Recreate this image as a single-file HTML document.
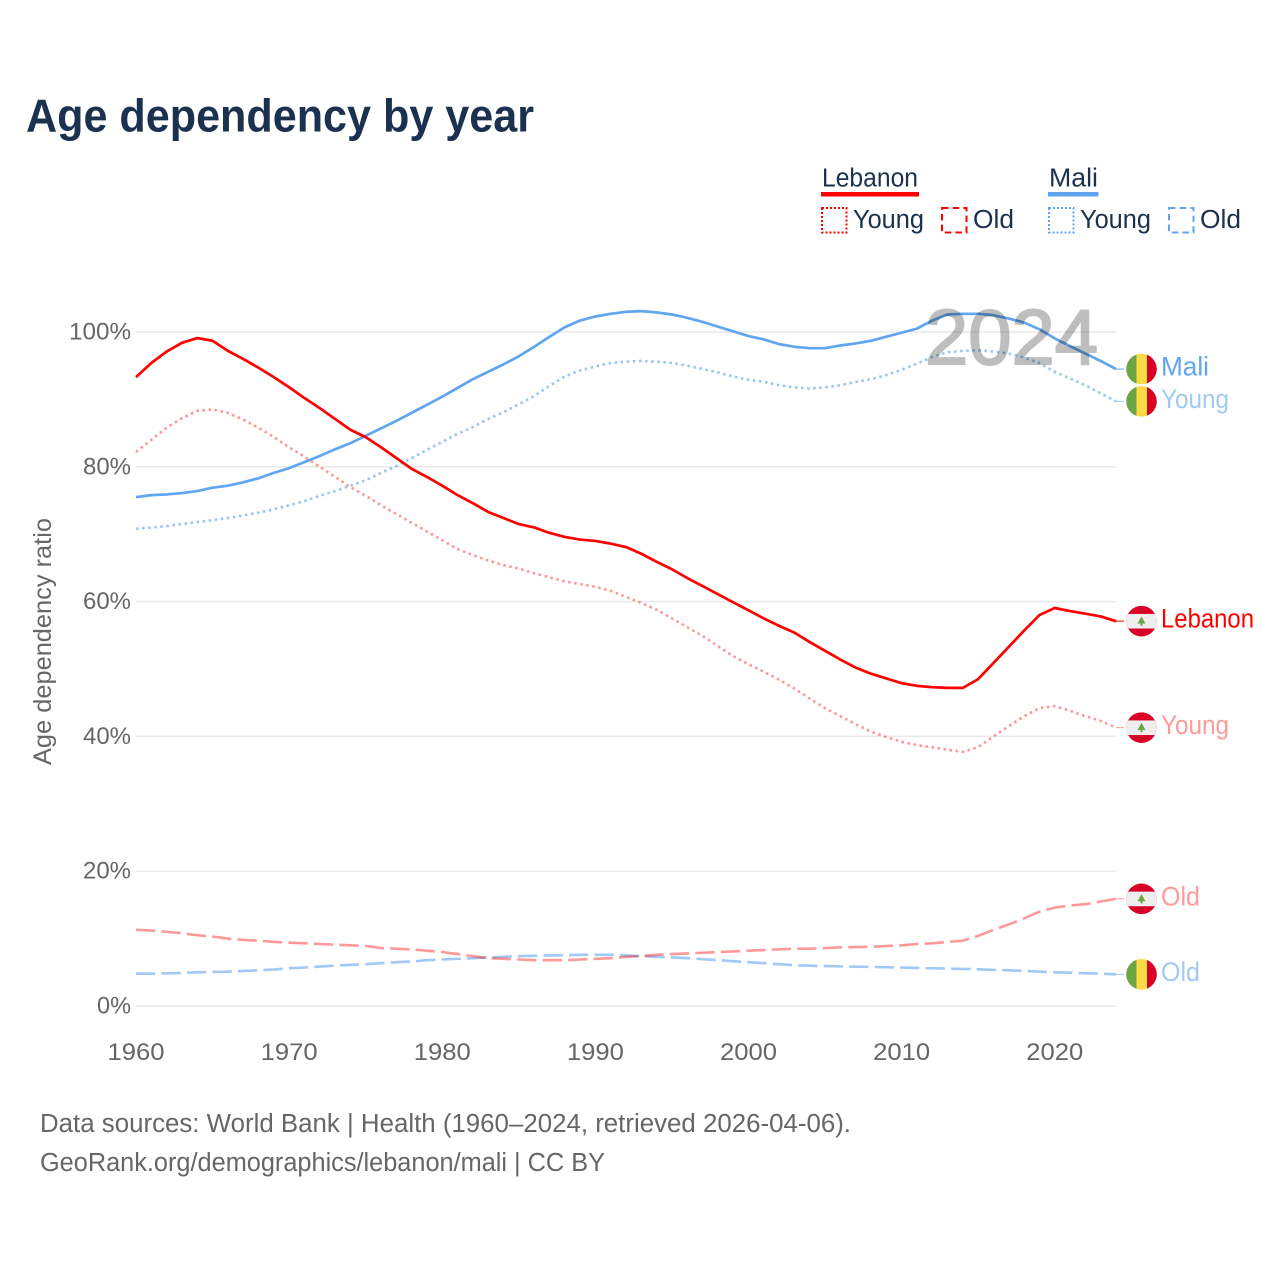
<!DOCTYPE html>
<html lang="en">
<head>
<meta charset="utf-8">
<title>Age dependency by year</title>
<style>
html,body{margin:0;padding:0;background:#fff;width:1280px;height:1280px;overflow:hidden}
svg{display:block}
text{font-family:"Liberation Sans",sans-serif}
</style>
</head>
<body>
<svg id="chart" xmlns="http://www.w3.org/2000/svg" width="1280" height="1280" viewBox="0 0 1280 1280">
  <defs>
    <clipPath id="flag-clip"><circle cx="0" cy="0" r="15.3"/></clipPath>
    <g id="flag-mali">
      <g clip-path="url(#flag-clip)">
        <rect x="-16" y="-16" width="11" height="32" fill="#6da544"/>
        <rect x="-5" y="-16" width="10.5" height="32" fill="#ffda44"/>
        <rect x="5.5" y="-16" width="11" height="32" fill="#d80027"/>
      </g>
    </g>
    <g id="flag-lebanon">
      <g clip-path="url(#flag-clip)">
        <rect x="-16" y="-16" width="32" height="32" fill="#d80027"/>
        <rect x="-16" y="-7.2" width="32" height="14.6" fill="#eeeeee"/>
        <polygon points="0,-4.6 4,2.4 1,2.4 1,4.6 -1,4.6 -1,2.4 -4,2.4" fill="#6da544"/>
      </g>
    </g>
  </defs>

  <text x="26" y="131.5" font-size="46" font-weight="700" fill="#1a3150" textLength="508" lengthAdjust="spacingAndGlyphs">Age dependency by year</text>

  <g fill="#1a3150" font-size="25.5">
    <text x="822" y="186.5" textLength="96" lengthAdjust="spacingAndGlyphs">Lebanon</text>
    <rect x="821" y="192" width="98" height="4.5" fill="#ff0000"/>
    <rect x="822" y="208" width="24.5" height="24.5" fill="none" stroke="#ff0000" stroke-width="2" stroke-dasharray="2 2"/>
    <text x="853" y="228" textLength="71" lengthAdjust="spacingAndGlyphs">Young</text>
    <rect x="942" y="208" width="24.5" height="24.5" fill="none" stroke="#ff0000" stroke-width="2" stroke-dasharray="6.5 4.2"/>
    <text x="973" y="228" textLength="41" lengthAdjust="spacingAndGlyphs">Old</text>

    <text x="1049" y="186.5" textLength="49" lengthAdjust="spacingAndGlyphs">Mali</text>
    <rect x="1048" y="192" width="50.5" height="4.5" fill="#60a5ef"/>
    <rect x="1049" y="208" width="24.5" height="24.5" fill="none" stroke="#60a5ef" stroke-width="2" stroke-dasharray="2 2"/>
    <text x="1080" y="228" textLength="71" lengthAdjust="spacingAndGlyphs">Young</text>
    <rect x="1169" y="208" width="24.5" height="24.5" fill="none" stroke="#60a5ef" stroke-width="2" stroke-dasharray="6.5 4.2"/>
    <text x="1200" y="228" textLength="41" lengthAdjust="spacingAndGlyphs">Old</text>
  </g>

  <g id="grid"></g>
  <g id="y-ticks"></g>
  <g id="x-ticks"></g>
  <text transform="translate(51,765) rotate(-90)" font-size="25" fill="#666666" textLength="247" lengthAdjust="spacingAndGlyphs">Age dependency ratio</text>

  <g id="series"></g>
  <g id="end-labels"></g>

  <text x="925" y="364" font-size="78" fill="#000000" stroke="#000000" stroke-width="2" opacity="0.25" textLength="173" lengthAdjust="spacingAndGlyphs">2024</text>

  <g font-size="25.5" fill="#666666">
    <text x="40" y="1132" textLength="811" lengthAdjust="spacingAndGlyphs">Data sources: World Bank | Health (1960–2024, retrieved 2026-04-06).</text>
    <text x="40" y="1171" textLength="565" lengthAdjust="spacingAndGlyphs">GeoRank.org/demographics/lebanon/mali | CC BY</text>
  </g>
</svg>
<script>
const startYear = 1960;
const endYear = 2024;
const yTickValues = [0, 20, 40, 60, 80, 100];
const yTickLabels = ["0%", "20%", "40%", "60%", "80%", "100%"];
const xTickValues = [1960, 1970, 1980, 1990, 2000, 2010, 2020];
const xTickLabels = ["1960", "1970", "1980", "1990", "2000", "2010", "2020"];

const lebanonTotal = [93.3,95.4,97.1,98.4,99.1,98.7,97.2,96.0,94.7,93.3,91.8,90.2,88.7,87.1,85.5,84.4,82.9,81.3,79.7,78.5,77.2,75.8,74.6,73.3,72.4,71.5,71.0,70.2,69.6,69.2,69.0,68.6,68.1,67.1,65.9,64.8,63.5,62.3,61.1,59.9,58.7,57.5,56.4,55.4,54.0,52.7,51.4,50.2,49.3,48.6,47.9,47.5,47.3,47.2,47.2,48.5,50.9,53.3,55.7,58.0,59.05,58.6,58.2,57.8,57.1];
const lebanonYoung = [82.2,84.0,85.8,87.2,88.3,88.5,88.0,87.0,85.8,84.4,82.9,81.5,80.0,78.5,77.0,75.7,74.3,73.0,71.7,70.4,69.1,67.8,66.9,66.1,65.4,64.9,64.2,63.6,63.0,62.6,62.2,61.6,60.7,59.8,58.8,57.5,56.2,54.9,53.4,51.9,50.7,49.6,48.4,47.1,45.6,44.2,43.0,41.8,40.7,39.9,39.2,38.7,38.4,38.0,37.7,38.4,40.0,41.5,43.0,44.2,44.5,43.8,43.0,42.3,41.3];
const lebanonOld = [11.3,11.2,11.0,10.8,10.5,10.3,10.0,9.8,9.7,9.5,9.4,9.3,9.2,9.1,9.0,8.9,8.6,8.5,8.4,8.2,8.0,7.7,7.4,7.1,7.0,6.9,6.8,6.8,6.8,6.9,7.0,7.1,7.3,7.4,7.6,7.7,7.8,7.9,8.0,8.1,8.2,8.3,8.4,8.5,8.5,8.6,8.7,8.75,8.8,8.9,9.0,9.2,9.3,9.5,9.7,10.4,11.3,12.1,13.0,14.0,14.6,14.9,15.1,15.5,15.9];
const maliTotal = [75.5,75.8,75.9,76.1,76.4,76.9,77.2,77.7,78.3,79.1,79.8,80.7,81.6,82.6,83.5,84.6,85.7,86.8,88.0,89.2,90.4,91.7,93.0,94.1,95.2,96.4,97.8,99.3,100.7,101.7,102.3,102.7,103.0,103.1,102.9,102.6,102.1,101.5,100.8,100.1,99.4,98.9,98.2,97.8,97.6,97.6,98.0,98.3,98.7,99.3,99.9,100.5,101.7,102.6,102.7,102.7,102.5,102.0,101.4,100.4,99.05,97.9,96.8,95.7,94.5];
const maliYoung = [70.8,71.0,71.2,71.5,71.8,72.1,72.4,72.8,73.2,73.7,74.3,74.9,75.7,76.4,77.2,78.0,79.1,80.1,81.3,82.5,83.7,84.9,85.9,87.1,88.1,89.3,90.5,92.0,93.4,94.3,94.9,95.4,95.6,95.7,95.6,95.4,95.0,94.5,94.0,93.4,92.9,92.6,92.1,91.8,91.6,91.8,92.1,92.6,93.0,93.6,94.4,95.3,96.3,97.0,97.2,97.3,97.1,96.8,96.2,95.4,94.1,93.1,92.1,90.9,89.7];
const maliOld = [4.8,4.8,4.85,4.9,5.0,5.05,5.1,5.2,5.3,5.4,5.6,5.7,5.85,6.0,6.1,6.2,6.35,6.5,6.6,6.8,6.9,7.0,7.1,7.2,7.3,7.4,7.45,7.5,7.55,7.6,7.6,7.6,7.5,7.4,7.3,7.2,7.1,6.95,6.8,6.65,6.5,6.35,6.2,6.05,5.98,5.92,5.88,5.84,5.8,5.75,5.7,5.65,5.6,5.55,5.5,5.45,5.35,5.3,5.2,5.1,5.0,4.95,4.85,4.8,4.7];

const SVG_NS = "http://www.w3.org/2000/svg";
const plotLeft = 136, plotRight = 1116, plotZero = 1006, plotHundred = 332;
const xScale = year => plotLeft + (year - startYear) * (plotRight - plotLeft) / (endYear - startYear);
const yScale = pct => plotZero + pct * (plotHundred - plotZero) / 100;

function svgEl(tag, attrs, parent) {
  const el = document.createElementNS(SVG_NS, tag);
  for (const key in attrs) el.setAttribute(key, attrs[key]);
  parent.appendChild(el);
  return el;
}

const gridGroup = document.getElementById("grid");
const yTickGroup = document.getElementById("y-ticks");
const xTickGroup = document.getElementById("x-ticks");
const seriesGroup = document.getElementById("series");
const endGroup = document.getElementById("end-labels");

yTickValues.forEach((value, i) => {
  const line = svgEl("line", {x1: plotLeft, x2: plotRight, y1: yScale(value), y2: yScale(value), stroke: "#e9e9e9", "stroke-width": 1.5}, gridGroup);
  
  
  const label = svgEl("text", {x: 131, y: yScale(value) + 7.5, "text-anchor": "end", "font-size": 24.5, fill: "#666666"}, yTickGroup);
  
  
  label.setAttribute("textLength", yTickLabels[i].length * 14 + 6);
  label.setAttribute("lengthAdjust", "spacingAndGlyphs");
  label.textContent = yTickLabels[i];
});

xTickValues.forEach((value, i) => {
  const label = svgEl("text", {x: xScale(value), y: 1060, "text-anchor": "middle", "font-size": 24.5, fill: "#666666", textLength: 57, lengthAdjust: "spacingAndGlyphs"}, xTickGroup);
  
  
  label.textContent = xTickLabels[i];
});

function drawSeries(values, color, opacity, dash, width) {
  const pts = values.map((v, i) => xScale(startYear + i).toFixed(2) + "," + yScale(v).toFixed(2)).join(" ");
  const line = svgEl("polyline", {points: pts, fill: "none", stroke: color, "stroke-opacity": opacity, "stroke-width": width, "stroke-linejoin": "round"}, seriesGroup);
  
  
  if (dash) line.setAttribute("stroke-dasharray", dash);
}

const RED = "#ff0000", BLUE = "#60a5ef";
const DOT = "2.5 3.6", DASH = "19.3 6.2";
drawSeries(maliOld, BLUE, 0.6, DASH, 2.6);
drawSeries(lebanonOld, RED, 0.4, DASH, 2.6);
drawSeries(maliYoung, BLUE, 0.65, DOT, 2.6);
drawSeries(lebanonYoung, RED, 0.42, DOT, 2.6);
drawSeries(maliTotal, BLUE, 1, null, 2.7);
drawSeries(lebanonTotal, RED, 1, null, 2.7);

function drawEnd(values, text, textWidth, color, opacity, flag) {
  const y = yScale(values[values.length - 1]);
  const leader = svgEl("line", {x1: plotRight, x2: 1124, y1: y, y2: y, stroke: color, "stroke-opacity": opacity, "stroke-width": 1}, endGroup);
  
  
  const icon = svgEl("use", {href: "#" + flag, x: 1141.5, y: y}, endGroup);
  
  
  const label = svgEl("text", {x: 1161, y: y + 6.5, "font-size": 26.5, fill: color, "fill-opacity": opacity, textLength: textWidth, lengthAdjust: "spacingAndGlyphs"}, endGroup);
  
  
  label.textContent = text;
}

drawEnd(maliTotal, "Mali", 48, BLUE, 1, "flag-mali");
drawEnd(maliYoung, "Young", 68, BLUE, 0.6, "flag-mali");
drawEnd(lebanonTotal, "Lebanon", 93, RED, 1, "flag-lebanon");
drawEnd(lebanonYoung, "Young", 68, RED, 0.4, "flag-lebanon");
drawEnd(lebanonOld, "Old", 39, RED, 0.4, "flag-lebanon");
drawEnd(maliOld, "Old", 39, BLUE, 0.6, "flag-mali");
</script>
</body>
</html>
